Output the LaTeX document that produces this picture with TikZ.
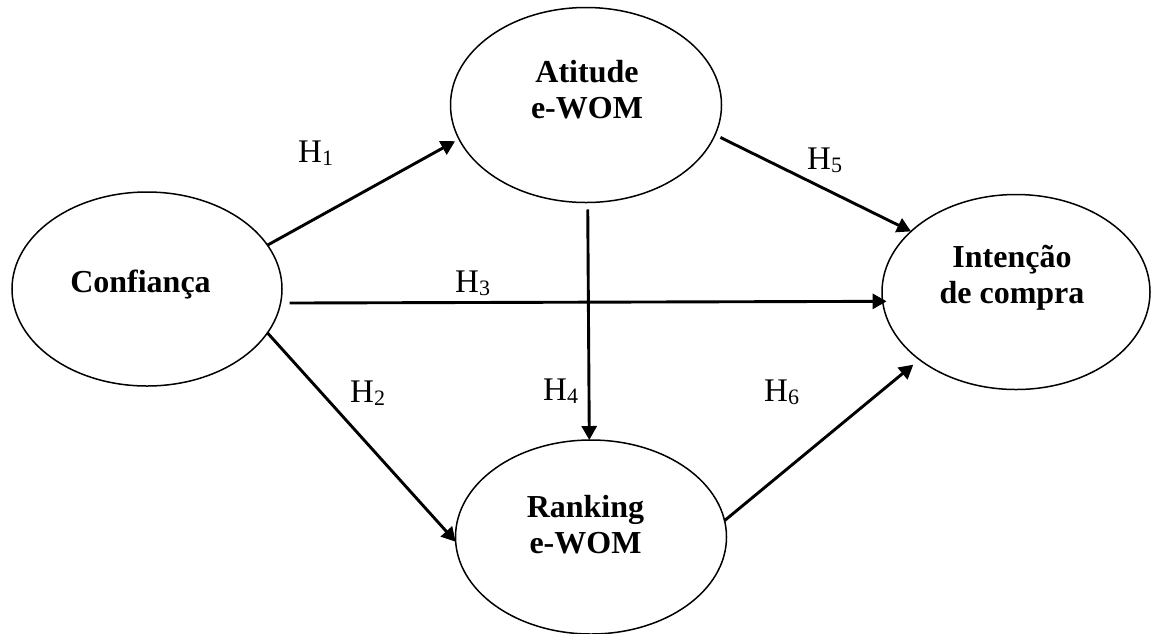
\documentclass[tikz,border=0pt]{standalone}
\usepackage{fontspec}
\setmainfont{Liberation Serif}
\usetikzlibrary{shapes.geometric,arrows.meta}

% hypothesis label: H with a lowered index
\newcommand{\hyp}[1]{H\raisebox{-3pt}{\fontsize{22}{22}\selectfont #1}}

\begin{document}
\begin{tikzpicture}[x=1pt,y=-1pt,
  construct/.style={ellipse,draw,line width=1.5pt,inner sep=0pt,outer sep=0pt,
    minimum width=270pt,minimum height=194pt},
  cname/.style={font=\fontsize{32}{36}\selectfont\bfseries,align=center,inner sep=0pt},
  hlabel/.style={font=\fontsize{33}{36}\selectfont,anchor=base west,inner sep=0pt},
  path/.style={line width=2.9pt,-{Triangle[length=14pt,width=15pt]}}
]
\useasboundingbox (0,0) rectangle (1151,633);

% constructs
\node[construct] (conf) at (147,289) {};
\node[construct,minimum width=271pt,minimum height=195pt] (att) at (586,105) {};
\node[construct,minimum width=268pt,minimum height=195pt] (int) at (1016,292) {};
\node[construct,minimum width=271pt] (rank) at (591,537) {};

\node[cname,anchor=base] (confT) at (140.5,292) {Confiança};
\node[cname] (attT) at (587,89.4) {Atitude\\e-WOM};
\node[cname] (intT) at (1012,278.2) {Intenção\\de compra};
\node[cname] (rankT) at (585.5,524.4) {Ranking\\e-WOM};

% hypothesised paths
\draw[path,shorten >=4.5pt] (conf.20) -- (att.195);
\draw[path] (conf.-20) -- (rank.182.5);
\draw[path,shorten <=9pt,shorten >=-4pt] (conf.-6.8) -- (int.184);
\draw[path,shorten <=7pt] (att.271) -- (rank.91);
\draw[path,shorten <=6pt] (att.-13.3) -- (int.150);
\draw[path,shorten >=8pt] (rank.7) -- (int.215);

% labels
\node[hlabel] (h1) at (298,162) {\hyp{1}};
\node[hlabel] (h2) at (350,402) {\hyp{2}};
\node[hlabel] (h3) at (455,292) {\hyp{3}};
\node[hlabel] (h4) at (543,400) {\hyp{4}};
\node[hlabel] (h5) at (807,169) {\hyp{5}};
\node[hlabel] (h6) at (764,401) {\hyp{6}};
\end{tikzpicture}
\end{document}
